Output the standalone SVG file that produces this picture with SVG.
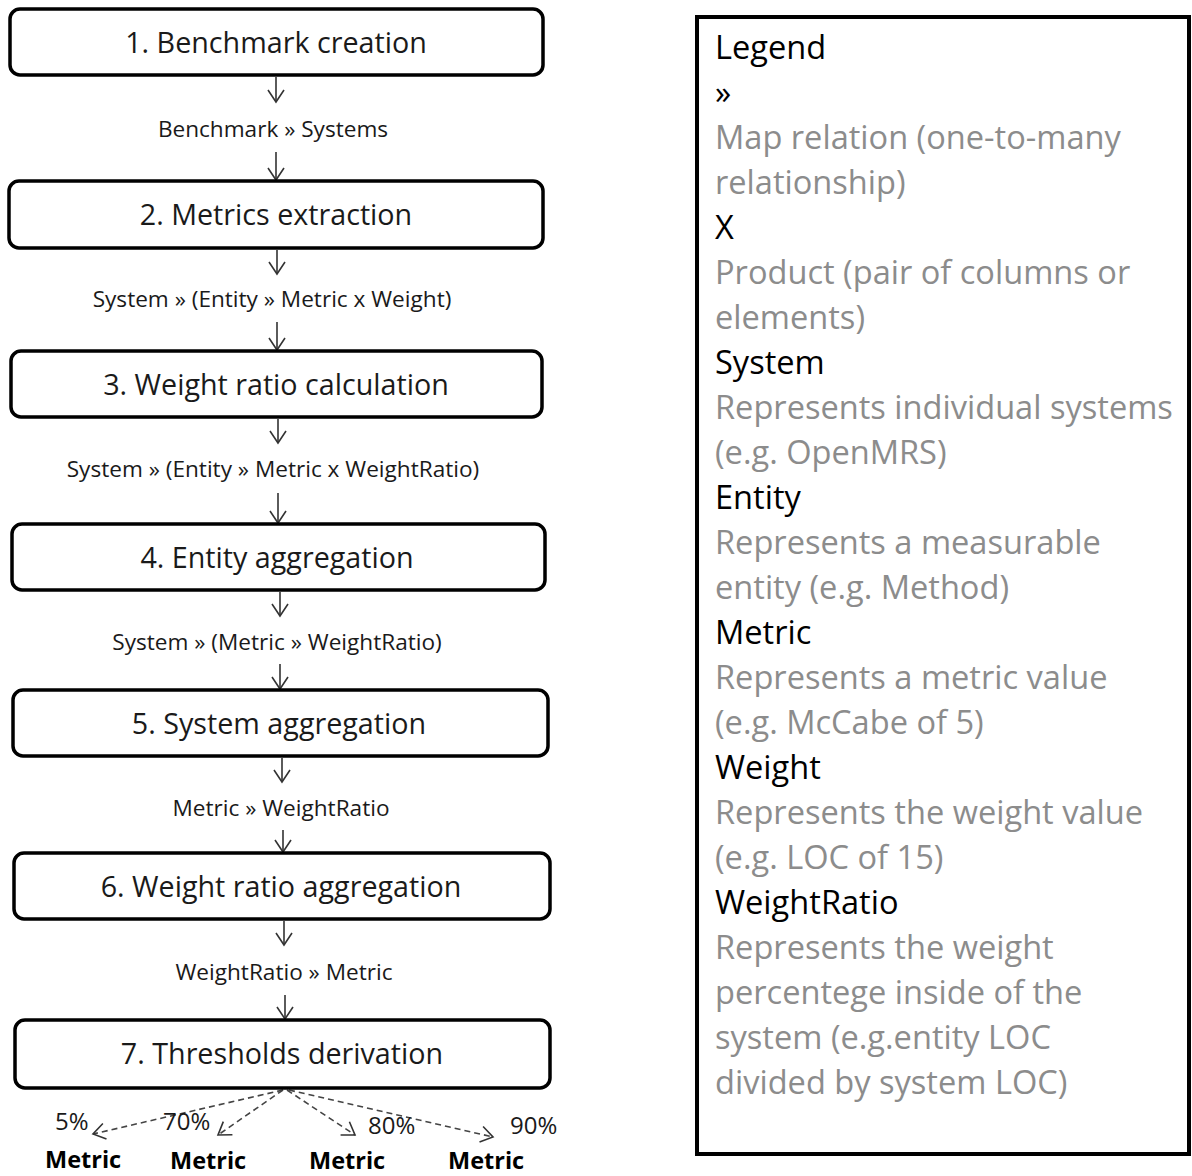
<svg xmlns="http://www.w3.org/2000/svg" width="1192" height="1176" viewBox="0 0 1192 1176">
<defs>
<style>
.box{fill:#fff;stroke:#000;stroke-width:3.5}
.bt{font-family:"Open Sans","DejaVu Sans",sans-serif;font-size:28.7px;fill:#1a1a1a;text-anchor:middle}
.lt{font-family:"Open Sans","DejaVu Sans",sans-serif;font-size:22.6px;fill:#1a1a1a;text-anchor:middle}
.pt{font-family:"Open Sans","DejaVu Sans",sans-serif;font-size:24px;fill:#1a1a1a}
.mt{font-family:"Open Sans","DejaVu Sans",sans-serif;font-size:23.5px;font-weight:bold;fill:#000}
.conn{stroke:#333;stroke-width:1.6;fill:none}
.dash{stroke:#444;stroke-width:1.6;fill:none;stroke-dasharray:6 4}
.lg{font-family:"Open Sans","DejaVu Sans",sans-serif;font-size:32.6px}
.k{fill:#000}
.g{fill:#8c8c8c}
</style>
<marker id="ah" viewBox="0 0 20 20" refX="18" refY="10" markerWidth="20" markerHeight="20" markerUnits="userSpaceOnUse" orient="auto">
<path d="M6,2 L18,10 L6,18" fill="none" stroke="#333" stroke-width="1.6"/>
</marker>
</defs>
<rect width="1192" height="1176" fill="#fff"/>
<g id="connectors">
<line class="conn" x1="276" y1="77" x2="276" y2="102" marker-end="url(#ah)"/>
<line class="conn" x1="276" y1="152" x2="276" y2="180" marker-end="url(#ah)"/>
<line class="conn" x1="277" y1="250" x2="277" y2="274" marker-end="url(#ah)"/>
<line class="conn" x1="277" y1="322" x2="277" y2="350" marker-end="url(#ah)"/>
<line class="conn" x1="278" y1="419" x2="278" y2="443" marker-end="url(#ah)"/>
<line class="conn" x1="278" y1="493" x2="278" y2="523" marker-end="url(#ah)"/>
<line class="conn" x1="280" y1="592" x2="280" y2="616" marker-end="url(#ah)"/>
<line class="conn" x1="280" y1="664" x2="280" y2="689" marker-end="url(#ah)"/>
<line class="conn" x1="282" y1="758" x2="282" y2="782" marker-end="url(#ah)"/>
<line class="conn" x1="283" y1="830" x2="283" y2="852" marker-end="url(#ah)"/>
<line class="conn" x1="284" y1="921" x2="284" y2="945" marker-end="url(#ah)"/>
<line class="conn" x1="285" y1="995" x2="285" y2="1019" marker-end="url(#ah)"/>
<line class="dash" x1="283" y1="1090" x2="93" y2="1134" marker-end="url(#ah)"/>
<line class="dash" x1="283" y1="1090" x2="218" y2="1135" marker-end="url(#ah)"/>
<line class="dash" x1="287" y1="1090" x2="355" y2="1135" marker-end="url(#ah)"/>
<line class="dash" x1="289" y1="1090" x2="493" y2="1137" marker-end="url(#ah)"/>
</g>
<g id="n1"><rect class="box" x="10" y="9" width="533" height="66" rx="10"/><text class="bt" x="276" y="53">1. Benchmark creation</text></g>
<g id="n2"><rect class="box" x="9" y="181" width="534" height="67" rx="10"/><text class="bt" x="276" y="225">2. Metrics extraction</text></g>
<g id="n3"><rect class="box" x="11" y="351" width="531" height="66" rx="10"/><text class="bt" x="276" y="395">3. Weight ratio calculation</text></g>
<g id="n4"><rect class="box" x="12" y="524" width="533" height="66" rx="10"/><text class="bt" x="277" y="568">4. Entity aggregation</text></g>
<g id="n5"><rect class="box" x="13" y="690" width="535" height="66" rx="10"/><text class="bt" x="279" y="734">5. System aggregation</text></g>
<g id="n6"><rect class="box" x="14" y="853" width="536" height="66" rx="10"/><text class="bt" x="281" y="897">6. Weight ratio aggregation</text></g>
<g id="n7"><rect class="box" x="15" y="1020" width="535" height="68" rx="10"/><text class="bt" x="282" y="1064">7. Thresholds derivation</text></g>
<g id="labels">
<text class="lt" x="273" y="137">Benchmark » Systems</text>
<text class="lt" x="272" y="307">System » (Entity » Metric x Weight)</text>
<text class="lt" x="273" y="477">System » (Entity » Metric x WeightRatio)</text>
<text class="lt" x="277" y="650">System » (Metric » WeightRatio)</text>
<text class="lt" x="281" y="816">Metric » WeightRatio</text>
<text class="lt" x="284" y="980">WeightRatio » Metric</text>
</g>
<g id="thresholds">
<text class="pt" x="55" y="1130">5%</text>
<text class="pt" x="163" y="1130">70%</text>
<text class="pt" x="368" y="1134">80%</text>
<text class="pt" x="510" y="1134">90%</text>
<text class="mt" x="45" y="1168">Metric</text>
<text class="mt" x="170" y="1169">Metric</text>
<text class="mt" x="309" y="1169">Metric</text>
<text class="mt" x="448" y="1169">Metric</text>
</g>
<g id="legend">
<rect x="697" y="17" width="492" height="1137" fill="#fff" stroke="#000" stroke-width="4"/>
<text class="lg" x="715">
<tspan class="k" x="715" y="59">Legend</tspan>
<tspan class="k" x="715" y="104">»</tspan>
<tspan class="g" x="715" y="149">Map relation (one-to-many</tspan>
<tspan class="g" x="715" y="194">relationship)</tspan>
<tspan class="k" x="715" y="239">X</tspan>
<tspan class="g" x="715" y="284">Product (pair of columns or</tspan>
<tspan class="g" x="715" y="329">elements)</tspan>
<tspan class="k" x="715" y="374">System</tspan>
<tspan class="g" x="715" y="419">Represents individual systems</tspan>
<tspan class="g" x="715" y="464">(e.g. OpenMRS)</tspan>
<tspan class="k" x="715" y="509">Entity</tspan>
<tspan class="g" x="715" y="554">Represents a measurable</tspan>
<tspan class="g" x="715" y="599">entity (e.g. Method)</tspan>
<tspan class="k" x="715" y="644">Metric</tspan>
<tspan class="g" x="715" y="689">Represents a metric value</tspan>
<tspan class="g" x="715" y="734">(e.g. McCabe of 5)</tspan>
<tspan class="k" x="715" y="779">Weight</tspan>
<tspan class="g" x="715" y="824">Represents the weight value</tspan>
<tspan class="g" x="715" y="869">(e.g. LOC of 15)</tspan>
<tspan class="k" x="715" y="914">WeightRatio</tspan>
<tspan class="g" x="715" y="959">Represents the weight</tspan>
<tspan class="g" x="715" y="1004">percentege inside of the</tspan>
<tspan class="g" x="715" y="1049">system (e.g.entity LOC</tspan>
<tspan class="g" x="715" y="1094">divided by system LOC)</tspan>
</text>
</g>
</svg>
